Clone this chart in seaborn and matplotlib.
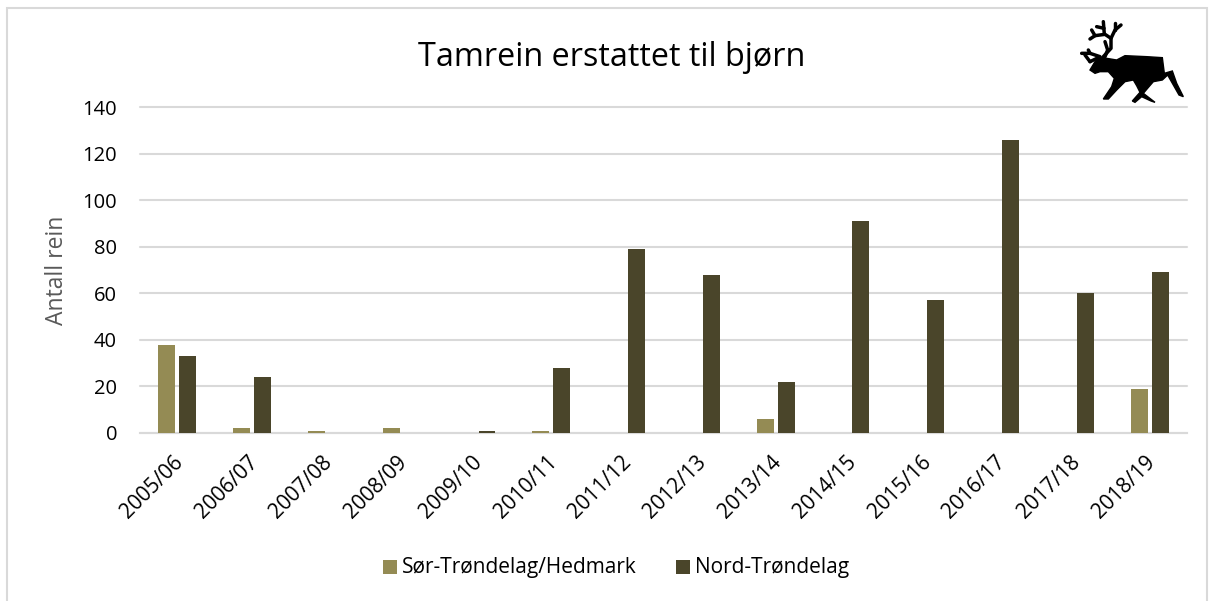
import pandas as pd
import seaborn as sns
import matplotlib.pyplot as plt
from matplotlib.patches import Polygon, Rectangle
from matplotlib.lines import Line2D
from matplotlib.transforms import ScaledTranslation

# Verdier lest av figuren
sesonger = ['2005/06', '2006/07', '2007/08', '2008/09', '2009/10', '2010/11', '2011/12',
            '2012/13', '2013/14', '2014/15', '2015/16', '2016/17', '2017/18', '2018/19']
sor_trondelag = [38, 2, 1, 2, 0, 1, 0, 0, 6, 0, 0, 0, 0, 19]
nord_trondelag = [33, 24, 0, 0, 1, 28, 79, 68, 22, 91, 57, 126, 60, 69]
y_ticks = [0, 20, 40, 60, 80, 100, 120, 140]

W, H = 1213, 601
LYS = '#948B54'
MORK = '#4A452A'
GRID = '#D9D9D9'

# Reinen i hjørnet, tegnet i pikselkoordinater (utsnitt 3x fra x=1075, y=15)
REIN_KROPP = [(45, 165), (60, 140), (75, 125), (95, 130), (125, 135), (150, 122), (215, 125),
              (262, 128), (268, 175), (292, 168), (305, 205), (325, 245), (312, 240), (295, 210),
              (278, 180), (262, 195), (235, 200), (222, 215), (205, 235), (240, 262), (228, 258),
              (200, 245), (180, 262), (172, 258), (195, 232), (185, 212), (175, 195), (150, 200),
              (125, 225), (100, 252), (85, 252), (110, 215), (118, 190), (100, 170), (75, 170),
              (60, 175)]
REIN_GEVIR = [
    [(85, 125), (108, 100), (108, 70), (90, 58), (60, 62), (45, 72)],
    [(88, 58), (85, 20)],
    [(87, 40), (65, 35)],
    [(60, 62), (50, 45)],
    [(108, 70), (120, 45), (138, 30)],
    [(120, 45), (120, 25)],
    [(90, 125), (98, 105), (90, 80)],
    [(75, 125), (45, 115), (20, 115)],
    [(45, 115), (40, 105)],
    [(30, 120), (45, 140)],
    [(45, 140), (70, 128)],
]


def rein_px(x, y):
    return (1075 + x / 3) / W, 1 - (15 + y / 3) / H


def draw_rein(fig):
    fig.add_artist(Polygon([rein_px(x, y) for x, y in REIN_KROPP], closed=True, facecolor='black',
                           edgecolor='black', lw=1, transform=fig.transFigure))
    for gren in REIN_GEVIR:
        xs, ys = zip(*[rein_px(x, y) for x, y in gren])
        fig.add_artist(Line2D(xs, ys, color='black', lw=2.5, transform=fig.transFigure,
                              solid_capstyle='round'))


def main():
    sns.set_theme(style='white')
    plt.rcParams['font.family'] = ['Open Sans', 'DejaVu Sans']

    df = pd.DataFrame({
        'Sesong': sesonger * 2,
        'Antall': sor_trondelag + nord_trondelag,
        'Område': ['Sør-Trøndelag/Hedmark'] * len(sesonger) + ['Nord-Trøndelag'] * len(sesonger),
    })

    fig = plt.figure(figsize=(W / 100, H / 100), dpi=100)
    ax = fig.add_axes([140 / W, 1 - 433 / H, (1187 - 140) / W, (433 - 107) / H])

    sns.barplot(data=df, x='Sesong', y='Antall', hue='Område', ax=ax, palette=[LYS, MORK],
                width=0.56, gap=0.19, saturation=1, legend=False, zorder=3, linewidth=0)

    ax.set_xlim(-0.5, len(sesonger) - 0.5)
    ax.set_ylim(0, 140)
    ax.set_yticks(y_ticks)
    ax.yaxis.grid(True, color=GRID, lw=1.5, clip_on=False)
    ax.set_axisbelow(True)
    sns.despine(ax=ax, left=True, top=True, right=True)
    ax.spines['bottom'].set_color(GRID)
    ax.spines['bottom'].set_linewidth(1.5)
    ax.tick_params(axis='both', length=0, labelcolor='black')
    ax.tick_params(axis='y', pad=16.5, labelsize=14.5)
    ax.tick_params(axis='x', pad=19, labelsize=15)
    plt.setp(ax.get_xticklabels(), rotation=45, ha='right', va='center', rotation_mode='anchor')
    # Litt til høyre, som i originalen
    for label in ax.get_xticklabels():
        label.set_transform(label.get_transform() + ScaledTranslation(2.5 / 100, 0, fig.dpi_scale_trans))
    ax.set_xlabel('')
    ax.set_ylabel('Antall rein', fontsize=16.5, color='#595959', va='center')
    ax.yaxis.set_label_coords((57 - 140) / (1187 - 140), 0.5)

    fig.text(612 / W, 1 - 57 / H, 'Tamrein erstattet til bjørn', fontsize=23.3, color='black',
             ha='center', va='center')

    # Egen tegnforklaring under figuren
    for x0, farge, tekst in [(383, LYS, 'Sør-Trøndelag/Hedmark'), (676, MORK, 'Nord-Trøndelag')]:
        fig.add_artist(Rectangle((x0 / W, 1 - 574 / H), 14 / W, 14 / H, color=farge, lw=0,
                                 transform=fig.transFigure))
        fig.text((x0 + 19) / W, 1 - 567 / H, tekst, fontsize=15, color='black', va='center')

    # Ramme rundt hele figuren
    fig.add_artist(Rectangle((7 / W, -0.01), (1207 - 7) / W, 1.01 - 8 / H, fill=False,
                             edgecolor=GRID, lw=1.5, transform=fig.transFigure))
    draw_rein(fig)

    plt.savefig('out.png', dpi=100)
    plt.close()


if __name__ == '__main__':
    main()
